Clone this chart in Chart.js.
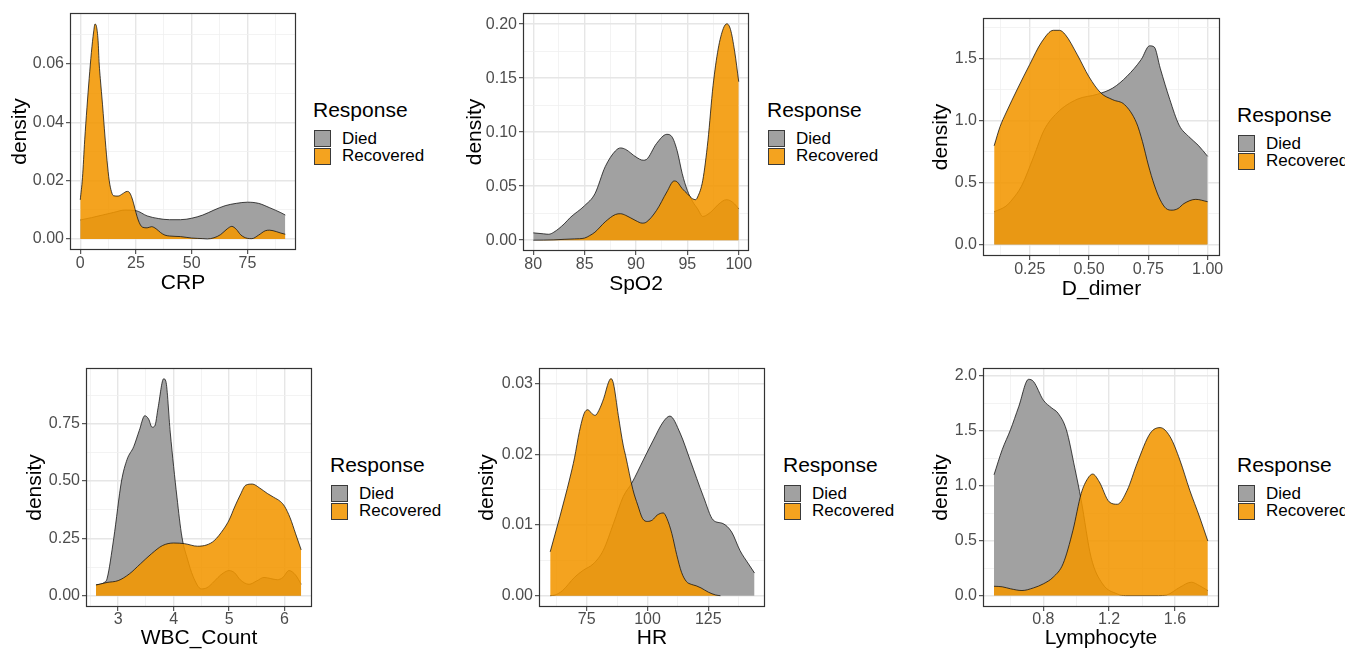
<!DOCTYPE html>
<html><head><meta charset="utf-8">
<script src="https://cdn.jsdelivr.net/npm/chart.js@4.4.1/dist/chart.umd.min.js"></script>
<style>
html,body{margin:0;padding:0;background:#fff;width:1345px;height:650px;overflow:hidden;position:relative;font-family:'Liberation Sans',Arial,sans-serif;}
canvas{position:absolute;}
.lg-title{position:absolute;font-size:21px;line-height:24px;color:#000;white-space:nowrap;}
.lg-key{position:absolute;width:17px;height:17px;box-sizing:border-box;border:1px solid #3a3a3a;}
.lg-label{position:absolute;font-size:17px;line-height:18px;color:#000;white-space:nowrap;}
</style></head><body>
<script>
// ---------- data ----------
const groupNames = ['Died', 'Recovered'];
const legendTitle = 'Response';
const yAxisTitle = 'density';

// CRP
const crpXTicks = [0, 25, 50, 75];
const crpXLabels = ['0', '25', '50', '75'];
const crpYTicks = [0, 0.02, 0.04, 0.06];
const crpYLabels = ['0.00', '0.02', '0.04', '0.06'];
const crpDiedX = [0, 5, 10, 15, 20, 25, 30, 35, 40, 45, 50, 55, 60, 65, 70, 75, 80, 85, 90, 92];
const crpDiedY = [0.0065, 0.0073, 0.0082, 0.0091, 0.0099, 0.0097, 0.0079, 0.007, 0.0066, 0.0066, 0.0071, 0.0082, 0.0099, 0.0114, 0.0122, 0.0126, 0.0122, 0.0107, 0.009, 0.0082];
const crpRecX = [0, 1, 2, 3, 4, 5, 6, 6.6, 7.3, 8, 8.5, 9, 10, 10.6, 11, 12, 13, 14, 15, 17, 19, 21, 22, 23, 24, 25, 26, 27, 28, 30, 32, 34, 36, 38, 40, 45, 50, 55, 57, 60, 63, 66, 68, 70, 72, 75, 77, 80, 83, 85, 88, 90, 92];
const crpRecY = [0.0134, 0.021, 0.034, 0.045, 0.055, 0.064, 0.071, 0.0737, 0.0728, 0.068, 0.06, 0.055, 0.046, 0.04, 0.036, 0.027, 0.02, 0.0162, 0.0148, 0.0147, 0.0155, 0.0163, 0.016, 0.0145, 0.012, 0.009, 0.0065, 0.0048, 0.004, 0.0038, 0.0042, 0.0035, 0.0022, 0.0013, 0.001, 0.0008, 0.0003, 0.0001, 0, 0.0004, 0.0015, 0.0035, 0.0043, 0.0033, 0.0014, 0.0002, 0.0001, 0.0013, 0.0028, 0.003, 0.0025, 0.002, 0.0016];

// SpO2
const spo2XTicks = [80, 85, 90, 95, 100];
const spo2XLabels = ['80', '85', '90', '95', '100'];
const spo2YTicks = [0, 0.05, 0.1, 0.15, 0.2];
const spo2YLabels = ['0.00', '0.05', '0.10', '0.15', '0.20'];
const spo2DiedX = [80, 81, 81.5, 82, 83, 83.6, 85, 86, 87, 88, 88.5, 89, 90, 90.7, 91, 92, 93, 93.5, 94, 94.5, 95, 95.5, 96, 96.5, 97, 97.5, 98, 98.8, 99.2, 99.6, 100];
const spo2DiedY = [0.0068, 0.0059, 0.0055, 0.0074, 0.015, 0.021, 0.032, 0.043, 0.068, 0.0827, 0.0854, 0.084, 0.077, 0.074, 0.0746, 0.0895, 0.098, 0.0957, 0.083, 0.0616, 0.046, 0.036, 0.029, 0.022, 0.024, 0.028, 0.033, 0.0375, 0.0365, 0.0335, 0.029];
const spo2RecX = [80, 82, 83, 84, 85, 85.5, 86, 87, 88, 88.5, 89, 90, 90.6, 91, 92, 93, 93.7, 94, 94.5, 95, 95.5, 95.8, 96, 96.5, 97, 97.5, 98, 98.5, 98.85, 99.2, 99.6, 100];
const spo2RecY = [0, 0.0003, 0.0008, 0.0012, 0.002, 0.0043, 0.0074, 0.017, 0.0238, 0.0245, 0.023, 0.018, 0.0158, 0.0167, 0.0276, 0.0446, 0.0548, 0.054, 0.0477, 0.043, 0.0384, 0.0375, 0.04, 0.0554, 0.092, 0.143, 0.177, 0.196, 0.2003, 0.195, 0.175, 0.1467];

// D_dimer
const ddXTicks = [0.25, 0.5, 0.75, 1.0];
const ddXLabels = ['0.25', '0.50', '0.75', '1.00'];
const ddYTicks = [0, 0.5, 1.0, 1.5];
const ddYLabels = ['0.0', '0.5', '1.0', '1.5'];
const ddDiedX = [0.1, 0.15, 0.175, 0.215, 0.267, 0.31, 0.365, 0.45, 0.535, 0.6, 0.66, 0.72, 0.755, 0.775, 0.8, 0.84, 0.88, 0.92, 0.96, 1.0];
const ddDiedY = [0.264, 0.31, 0.36, 0.47, 0.71, 0.92, 1.06, 1.17, 1.21, 1.26, 1.355, 1.49, 1.6, 1.59, 1.42, 1.17, 0.96, 0.87, 0.8, 0.71];
const ddRecX = [0.1, 0.125, 0.15, 0.2, 0.25, 0.3, 0.35, 0.375, 0.4, 0.45, 0.5, 0.55, 0.6, 0.65, 0.7, 0.725, 0.75, 0.775, 0.8, 0.825, 0.85, 0.875, 0.9, 0.95, 1.0];
const ddRecY = [0.795, 0.95, 1.06, 1.26, 1.45, 1.63, 1.725, 1.725, 1.69, 1.53, 1.35, 1.22, 1.166, 1.126, 0.98, 0.83, 0.64, 0.48, 0.36, 0.29, 0.277, 0.29, 0.33, 0.364, 0.345];

// WBC_Count
const wbcXTicks = [3, 4, 5, 6];
const wbcXLabels = ['3', '4', '5', '6'];
const wbcYTicks = [0, 0.25, 0.5, 0.75];
const wbcYLabels = ['0.00', '0.25', '0.50', '0.75'];
const wbcDiedX = [2.6, 2.75, 2.8, 2.92, 3.06, 3.16, 3.28, 3.38, 3.48, 3.55, 3.61, 3.66, 3.72, 3.82, 3.86, 3.94, 4.06, 4.15, 4.25, 4.35, 4.5, 4.6, 4.7, 4.8, 4.9, 5.0, 5.1, 5.2, 5.36, 5.5, 5.63, 5.75, 5.87, 5.97, 6.08, 6.2, 6.3];
const wbcDiedY = [0.047, 0.058, 0.075, 0.25, 0.5, 0.594, 0.65, 0.72, 0.785, 0.77, 0.735, 0.74, 0.82, 0.946, 0.935, 0.71, 0.43, 0.256, 0.16, 0.085, 0.03, 0.035, 0.055, 0.08, 0.1, 0.11, 0.1, 0.07, 0.05, 0.065, 0.08, 0.075, 0.07, 0.08, 0.11, 0.09, 0.05];
const wbcRecX = [2.6, 2.8, 3.0, 3.2, 3.4, 3.6, 3.8, 4.0, 4.2, 4.43, 4.6, 4.73, 4.9, 5.0, 5.1, 5.2, 5.3, 5.42, 5.55, 5.69, 5.8, 5.93, 6.0, 6.1, 6.2, 6.3];
const wbcRecY = [0.047, 0.058, 0.066, 0.095, 0.139, 0.183, 0.219, 0.23, 0.227, 0.216, 0.222, 0.24, 0.29, 0.33, 0.387, 0.439, 0.482, 0.487, 0.47, 0.446, 0.43, 0.41, 0.39, 0.34, 0.27, 0.2];

// HR
const hrXTicks = [75, 100, 125];
const hrXLabels = ['75', '100', '125'];
const hrYTicks = [0, 0.01, 0.02, 0.03];
const hrYLabels = ['0.00', '0.01', '0.02', '0.03'];
const hrDiedX = [60, 62, 65, 70, 73.6, 77.7, 81.8, 86, 90, 93.5, 98.3, 102.4, 106.5, 109.2, 113.4, 117.5, 123, 127, 131, 134.6, 138, 141.5, 144];
const hrDiedY = [0, 0.0001, 0.0007, 0.0026, 0.0036, 0.0045, 0.0064, 0.0102, 0.014, 0.0159, 0.0192, 0.022, 0.0246, 0.0254, 0.023, 0.0192, 0.014, 0.0107, 0.0102, 0.009, 0.0064, 0.0045, 0.0032];
const hrRecX = [60, 62, 64, 66, 68, 70, 72, 74, 75.5, 77, 78.5, 80, 82, 84, 85, 86, 88, 90, 91, 94, 96, 98, 100, 102, 104, 106.5, 108, 110, 112, 114, 116, 118, 120, 122, 125, 128, 130];
const hrRecY = [0.0062, 0.0087, 0.0112, 0.0138, 0.0165, 0.0195, 0.0232, 0.0258, 0.0263, 0.0258, 0.0255, 0.0262, 0.0279, 0.0302, 0.0307, 0.03, 0.0255, 0.0213, 0.0198, 0.015, 0.0128, 0.0109, 0.0105, 0.0107, 0.0114, 0.0117, 0.0109, 0.0088, 0.0058, 0.0033, 0.002, 0.0016, 0.0014, 0.0011, 0.0005, 0.0001, 0];

// Lymphocyte
const lymXTicks = [0.8, 1.2, 1.6];
const lymXLabels = ['0.8', '1.2', '1.6'];
const lymYTicks = [0, 0.5, 1.0, 1.5, 2.0];
const lymYLabels = ['0.0', '0.5', '1.0', '1.5', '2.0'];
const lymDiedX = [0.5, 0.55, 0.6, 0.65, 0.71, 0.74, 0.8, 0.85, 0.89, 0.94, 0.99, 1.03, 1.09, 1.16, 1.25, 1.3, 1.4, 1.5, 1.55, 1.63, 1.7, 1.75, 1.8];
const lymDiedY = [1.1, 1.33, 1.51, 1.72, 1.97, 1.95, 1.78, 1.71, 1.66, 1.51, 1.17, 0.87, 0.35, 0.107, 0.015, 0, 0, 0, 0.006, 0.076, 0.122, 0.09, 0.046];
const lymRecX = [0.5, 0.55, 0.6, 0.67, 0.74, 0.8, 0.86, 0.92, 0.98, 1.03, 1.07, 1.1, 1.14, 1.2, 1.25, 1.31, 1.37, 1.45, 1.51, 1.57, 1.63, 1.69, 1.75, 1.8];
const lymRecY = [0.085, 0.08, 0.062, 0.046, 0.07, 0.107, 0.168, 0.29, 0.595, 0.93, 1.067, 1.107, 1.036, 0.854, 0.832, 0.96, 1.204, 1.479, 1.53, 1.448, 1.235, 0.96, 0.716, 0.497];

// ---------- styles / layout ----------
const DIED_FILL = '#A1A1A1';
const REC_FILL = 'rgba(243,150,0,0.88)';
const LINE_COLOR = 'rgba(15,15,15,0.85)';
Chart.defaults.font.family = "'Liberation Sans', Arial, sans-serif";

const panels = [
  {box:[70,13,296,250], xTitle:'CRP', xMin:-4.6, xMax:96.8, yMin:-0.0038, yMax:0.0775,
   xT:crpXTicks, xL:crpXLabels, yT:crpYTicks, yL:crpYLabels, died:[crpDiedX,crpDiedY], rec:[crpRecX,crpRecY],
   yTitlePad:7.4, xTitlePad:4.4, xTickPad:0, lg:{x:313, ty:110, ky:130}},
  {box:[523,13,749,251], xTitle:'SpO2', xMin:79.0, xMax:101.0, yMin:-0.0100, yMax:0.2103,
   xT:spo2XTicks, xL:spo2XLabels, yT:spo2YTicks, yL:spo2YLabels, died:[spo2DiedX,spo2DiedY], rec:[spo2RecX,spo2RecY],
   yTitlePad:9.4, xTitlePad:4.4, xTickPad:0, lg:{x:767, ty:110, ky:130}},
  {box:[983,18,1220,256], xTitle:'D_dimer', xMin:0.053, xMax:1.052, yMin:-0.092, yMax:1.824,
   xT:ddXTicks, xL:ddXLabels, yT:ddYTicks, yL:ddYLabels, died:[ddDiedX,ddDiedY], rec:[ddRecX,ddRecY],
   yTitlePad:16.1, xTitlePad:4.4, xTickPad:0, lg:{x:1237, ty:115, ky:135}},
  {box:[86,368,312,607], xTitle:'WBC_Count', xMin:2.42, xMax:6.495, yMin:-0.049, yMax:0.993,
   xT:wbcXTicks, xL:wbcXLabels, yT:wbcYTicks, yL:wbcYLabels, died:[wbcDiedX,wbcDiedY], rec:[wbcRecX,wbcRecY],
   yTitlePad:6.4, xTitlePad:6.4, xTickPad:-1, lg:{x:330, ty:465, ky:485}},
  {box:[539,368,765,607], xTitle:'HR', xMin:55.4, xMax:148.3, yMin:-0.0016, yMax:0.0322,
   xT:hrXTicks, xL:hrXLabels, yT:hrYTicks, yL:hrYLabels, died:[hrDiedX,hrDiedY], rec:[hrRecX,hrRecY],
   yTitlePad:6.0, xTitlePad:6.4, xTickPad:-1, lg:{x:783, ty:465, ky:485}},
  {box:[983,368,1219,607], xTitle:'Lymphocyte', xMin:0.433, xMax:1.868, yMin:-0.104, yMax:2.073,
   xT:lymXTicks, xL:lymXLabels, yT:lymYTicks, yL:lymYLabels, died:[lymDiedX,lymDiedY], rec:[lymRecX,lymRecY],
   yTitlePad:16.1, xTitlePad:6.4, xTickPad:-1, lg:{x:1237, ty:465, ky:485}}
];

const Y_AXIS_W = 70, X_AXIS_H = 50, PAD_TOP = 10, PAD_RIGHT = 6;

function toXY(xs, ys) { return xs.map((x, i) => ({x: x, y: ys[i]})); }
function minorTicks(majors, min, max) {
  const step = majors[1] - majors[0];
  const out = [];
  for (let k = 0; k <= majors.length + 1; k++) {
    const v = majors[0] - step / 2 + k * step;
    if (v >= min && v <= max) out.push(+v.toFixed(8));
  }
  return out;
}

const framePlugin = {
  id: 'frame',
  afterDatasetsDraw(chart) {
    const {ctx, chartArea: a} = chart;
    ctx.save();
    ctx.strokeStyle = '#333333';
    ctx.lineWidth = 1.2;
    ctx.strokeRect(a.left + 0.5, a.top + 0.5, a.right - a.left - 1, a.bottom - a.top - 1);
    ctx.restore();
  }
};

function axisCfg(kind, p) {
  const majors = kind === 'x' ? p.xT : p.yT;
  const labels = kind === 'x' ? p.xL : p.yL;
  const min = kind === 'x' ? p.xMin : p.yMin;
  const max = kind === 'x' ? p.xMax : p.yMax;
  const minors = minorTicks(majors, min, max);
  const idx = v => majors.findIndex(m => Math.abs(m - v) < 1e-7);
  const isMajor = c => c.tick && idx(c.tick.value) >= 0;
  return {
    type: 'linear',
    position: kind === 'x' ? 'bottom' : 'left',
    min: min, max: max,
    afterBuildTicks: s => { s.ticks = majors.concat(minors).sort((a, b) => a - b).map(v => ({value: v})); },
    afterFit: s => {
      if (kind === 'x') s.height = X_AXIS_H; else s.width = Y_AXIS_W;
      s.paddingLeft = 0; s.paddingRight = 0; s.paddingTop = 0; s.paddingBottom = 0;
    },
    ticks: {
      autoSkip: false, maxRotation: 0, minRotation: 0,
      padding: kind === 'x' ? p.xTickPad : 2,
      color: '#4D4D4D', font: {size: 16},
      callback: v => { const i = idx(v); return i >= 0 ? labels[i] : ''; }
    },
    grid: {
      color: c => isMajor(c) ? '#E6E6E6' : '#F0F0F0',
      lineWidth: c => isMajor(c) ? 1.4 : 0.8,
      tickColor: c => isMajor(c) ? '#333333' : 'rgba(0,0,0,0)',
      tickLength: 4, tickWidth: 1, drawTicks: true
    },
    border: {display: false},
    title: {
      display: true, text: kind === 'x' ? p.xTitle : yAxisTitle, color: '#000',
      font: {size: 21},
      padding: kind === 'x' ? {top: 0, bottom: p.xTitlePad} : {top: p.yTitlePad, bottom: 0}
    }
  };
}

function addLegend(lg) {
  const t = document.createElement('div');
  t.className = 'lg-title'; t.textContent = legendTitle;
  t.style.left = lg.x + 'px'; t.style.top = (lg.ty - 12) + 'px';
  document.body.appendChild(t);
  const fills = [DIED_FILL, REC_FILL];
  groupNames.forEach((name, i) => {
    const k = document.createElement('div');
    k.className = 'lg-key';
    k.style.left = (lg.x + 1) + 'px';
    k.style.top = (lg.ky + i * 17.5) + 'px';
    k.style.background = fills[i];
    document.body.appendChild(k);
    const l = document.createElement('div');
    l.className = 'lg-label'; l.textContent = name;
    l.style.left = (lg.x + 29) + 'px';
    l.style.top = (lg.ky + i * 17.5 + 8.5 - 9) + 'px';
    document.body.appendChild(l);
  });
}

panels.forEach(p => {
  const [l, t, r, b] = p.box;
  const cv = document.createElement('canvas');
  const w = Y_AXIS_W + (r - l) + PAD_RIGHT;
  const h = PAD_TOP + (b - t) + X_AXIS_H;
  cv.width = w; cv.height = h;
  cv.style.left = (l - Y_AXIS_W) + 'px';
  cv.style.top = (t - PAD_TOP) + 'px';
  cv.style.width = w + 'px'; cv.style.height = h + 'px';
  document.body.appendChild(cv);
  new Chart(cv, {
    type: 'line',
    data: {
      datasets: [
        {label: groupNames[1], data: toXY(p.rec[0], p.rec[1]), fill: 'origin',
         backgroundColor: REC_FILL, borderColor: LINE_COLOR, borderWidth: 0.9,
         pointRadius: 0, cubicInterpolationMode: 'monotone'},
        {label: groupNames[0], data: toXY(p.died[0], p.died[1]), fill: 'origin',
         backgroundColor: DIED_FILL, borderColor: LINE_COLOR, borderWidth: 0.9,
         pointRadius: 0, cubicInterpolationMode: 'monotone'}
      ]
    },
    options: {
      responsive: false, animation: false, devicePixelRatio: 1, events: [],
      layout: {padding: {left: 0, top: PAD_TOP, right: PAD_RIGHT, bottom: 0}},
      plugins: {legend: {display: false}, tooltip: {enabled: false}},
      scales: {x: axisCfg('x', p), y: axisCfg('y', p)}
    },
    plugins: [framePlugin]
  });
  addLegend(p.lg);
});
</script>
</body></html>
